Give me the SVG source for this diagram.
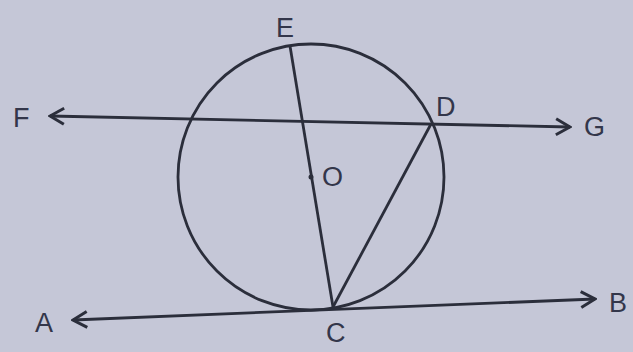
<svg xmlns="http://www.w3.org/2000/svg" width="633" height="352" viewBox="0 0 633 352">
<defs>
<marker id="arr" viewBox="0 0 20 20" refX="18" refY="10" markerWidth="20" markerHeight="20" markerUnits="userSpaceOnUse" orient="auto-start-reverse">
<path d="M4,2 L18,10 L4,18" fill="none" stroke="#2b2e3b" stroke-width="3" stroke-linejoin="miter"/>
</marker>
<style>
.ln{stroke:#2b2e3b;stroke-width:2.8;fill:none}
.lb{font-family:"Liberation Sans",Arial,sans-serif;font-size:27px;fill:#33364a}
</style>
</defs>
<rect width="633" height="352" fill="#c5c7d7"/>
<g id="circle"><circle class="ln" cx="311" cy="177" r="133"/></g>
<g id="connectors">
<line class="ln" x1="50" y1="116" x2="570" y2="127" marker-start="url(#arr)" marker-end="url(#arr)"/>
<line class="ln" x1="73" y1="320" x2="595" y2="299" marker-start="url(#arr)" marker-end="url(#arr)"/>
<line class="ln" x1="290" y1="46" x2="333" y2="307"/>
<line class="ln" x1="333" y1="307" x2="431" y2="124"/>
</g>
<g id="O"><circle cx="311" cy="177" r="2.5" fill="#2b2e3b"/><text class="lb" x="322" y="186">O</text></g>
<g id="E"><text class="lb" x="276" y="37">E</text></g>
<g id="D"><text class="lb" x="436" y="116">D</text></g>
<g id="F"><text class="lb" x="13" y="127">F</text></g>
<g id="G"><text class="lb" x="584" y="136">G</text></g>
<g id="A"><text class="lb" x="35" y="332">A</text></g>
<g id="B"><text class="lb" x="609" y="312">B</text></g>
<g id="C"><text class="lb" x="326" y="342">C</text></g>
</svg>
